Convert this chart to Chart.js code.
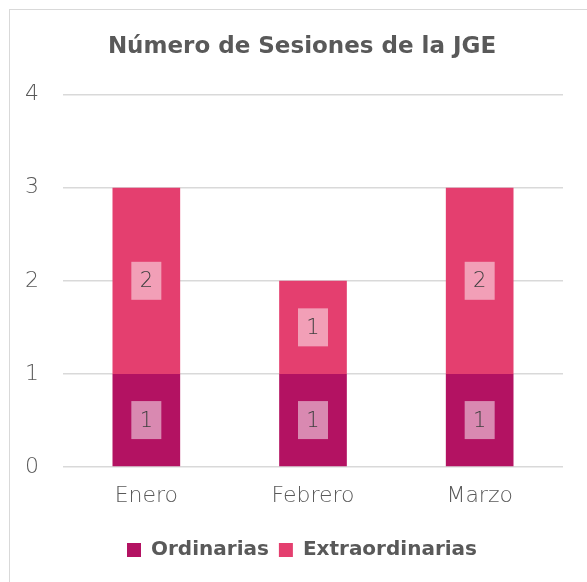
<!DOCTYPE html>
<html>
<head>
<meta charset="utf-8">
<script src="https://cdn.jsdelivr.net/npm/chart.js@4.4.1/dist/chart.umd.min.js"></script>
<style>
  html, body { margin: 0; padding: 0; background: #ffffff; }
  #wrap { position: absolute; left: 9px; top: 9px; width: 578px; height: 573px;
          border-left: 1.5px solid #d9d9d9; border-top: 1.5px solid #d9d9d9; box-sizing: border-box; }
  canvas { display: block; }
</style>
</head>
<body>
<div id="wrap"><canvas id="c" width="576" height="571"></canvas></div>
<script>
const categories = ["Enero", "Febrero", "Marzo"];
const ordinarias = [1, 1, 1];
const extraordinarias = [2, 1, 2];
const seriesNames = ["Ordinarias", "Extraordinarias"];
const yTicks = [0, 1, 2, 3, 4];
const chartTitle = "Número de Sesiones de la JGE";

const FONT = "'DejaVu Sans', 'Liberation Sans', sans-serif";
const GREY = "#595959";

const labelPlugin = {
  id: 'boxLabels',
  afterDatasetsDraw(chart) {
    const ctx = chart.ctx;
    ctx.save();
    chart.data.datasets.forEach((ds, di) => {
      const meta = chart.getDatasetMeta(di);
      meta.data.forEach((el, i) => {
        const p = el.getProps(['x', 'y', 'base'], true);
        const cy = (p.y + p.base) / 2;
        const w = 30, h = 38;
        ctx.fillStyle = 'rgba(255,255,255,0.5)';
        ctx.fillRect(p.x - w / 2, cy - h / 2, w, h);
        ctx.fillStyle = '#404040';
        ctx.font = "300 21px " + FONT;
        ctx.textAlign = 'center';
        ctx.textBaseline = 'middle';
        ctx.fillText(String(ds.data[i]), p.x, cy + 1);
      });
    });
    ctx.restore();
  }
};

new Chart(document.getElementById('c'), {
  type: 'bar',
  data: {
    labels: categories,
    datasets: [
      { label: seriesNames[0], data: ordinarias, backgroundColor: '#B31262',
        categoryPercentage: 1, barPercentage: 0.406 },
      { label: seriesNames[1], data: extraordinarias, backgroundColor: '#E43F6F',
        categoryPercentage: 1, barPercentage: 0.406 }
    ]
  },
  options: {
    responsive: false,
    animation: false,
    layout: { padding: { left: 31, right: 23, top: 0, bottom: 11 } },
    plugins: {
      title: {
        display: true, text: chartTitle, color: GREY,
        font: { family: FONT, size: 23, weight: 'bold', lineHeight: 1.2 },
        padding: { top: 23, bottom: 34 }
      },
      legend: {
        position: 'bottom',
        labels: {
          color: GREY, boxWidth: 14, boxHeight: 14, padding: 10,
          font: { family: FONT, size: 20, weight: 'bold', lineHeight: 1.2 }
        }
      },
      tooltip: { enabled: false }
    },
    scales: {
      x: {
        stacked: true,
        grid: { display: false, drawTicks: false },
        border: { display: false },
        ticks: { color: GREY, padding: 16, font: { family: FONT, size: 22, weight: 300, lineHeight: 1.2 } },
        afterFit(scale) { scale.height = 63; }
      },
      y: {
        stacked: true, min: 0, max: 4,
        afterBuildTicks(scale) { scale.ticks = yTicks.map(v => ({ value: v })); },
        grid: { color: '#d9d9d9', lineWidth: 1.5, drawTicks: false },
        border: { display: false },
        ticks: { color: GREY, mirror: true, crossAlign: 'center', padding: -38,
                 font: { family: FONT, size: 22, weight: 300, lineHeight: 1.2 } },
        afterFit(scale) { scale.width = 22; }
      }
    }
  },
  plugins: [labelPlugin]
});
</script>
</body>
</html>
